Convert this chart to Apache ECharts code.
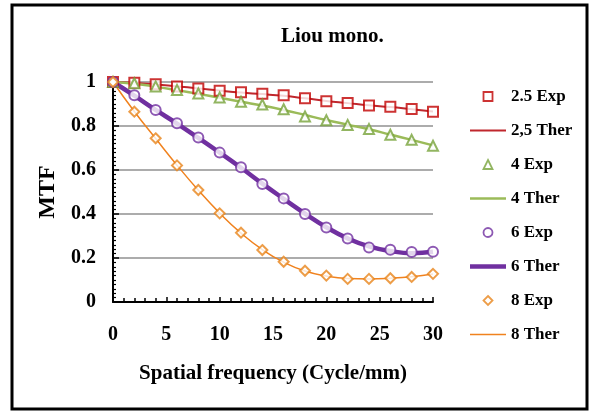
<!DOCTYPE html>
<html>
<head>
<meta charset="utf-8">
<script src="https://cdn.jsdelivr.net/npm/echarts@6/dist/echarts.min.js"></script>
<style>
html, body { margin: 0; padding: 0; background: #fff; }
#main { width: 590px; height: 412px; }
</style>
</head>
<body>
<div id="main"></div>
<script>
var freq = [0, 2, 4, 6, 8, 10, 12, 14, 16, 18, 20, 22, 24, 26, 28, 30];

// measured (Exp) and theoretical (Ther) MTF
var exp25  = [1.0, 0.997, 0.99, 0.98, 0.97, 0.96, 0.953, 0.947, 0.94, 0.926, 0.912, 0.905, 0.893, 0.888, 0.877, 0.865];
var ther25 = [1.0, 0.996, 0.989, 0.980, 0.971, 0.961, 0.952, 0.945, 0.937, 0.926, 0.914, 0.904, 0.894, 0.886, 0.876, 0.866];
var exp4   = [1.0, 0.994, 0.98, 0.964, 0.948, 0.93, 0.91, 0.898, 0.876, 0.843, 0.826, 0.805, 0.786, 0.76, 0.737, 0.71];
var ther4  = [1.0, 0.992, 0.979, 0.963, 0.946, 0.928, 0.910, 0.893, 0.873, 0.850, 0.827, 0.806, 0.785, 0.761, 0.737, 0.712];
var exp6   = [1.0, 0.94, 0.873, 0.812, 0.748, 0.679, 0.612, 0.536, 0.471, 0.40, 0.339, 0.289, 0.248, 0.237, 0.227, 0.228];
var ther6  = [1.0, 0.938, 0.873, 0.811, 0.746, 0.679, 0.610, 0.538, 0.469, 0.402, 0.340, 0.289, 0.253, 0.232, 0.222, 0.228];
var exp8   = [1.0, 0.865, 0.744, 0.621, 0.509, 0.403, 0.315, 0.236, 0.183, 0.142, 0.12, 0.105, 0.105, 0.108, 0.114, 0.128];
var ther8  = [1.0, 0.866, 0.743, 0.622, 0.508, 0.404, 0.313, 0.238, 0.181, 0.141, 0.118, 0.107, 0.105, 0.108, 0.115, 0.127];

var names = ['2.5 Exp', '2,5 Ther', '4 Exp', '4 Ther', '6 Exp', '6 Ther', '8 Exp', '8 Ther'];

function pairs(vals) {
    return freq.map(function (f, i) { return [f, vals[i]]; });
}

var font = 'Liberation Serif';
var cRed = '#c00000', cRedLine = '#c0272d';
var cGreen = '#77a33a', cGreenLine = '#9bbb59';
var cPurple = '#7030a0';
var cOrange = '#e8841a', cOrangeLine = '#f0821e';

function expSeries(name, vals, symbol, color) {
    return {
        name: name,
        type: 'scatter',
        data: pairs(vals),
        symbol: symbol,
        symbolSize: 10,
        z: 5,
        itemStyle: { color: color, borderColor: color, borderWidth: 2 }
    };
}

function therSeries(name, vals, color, width) {
    return {
        name: name,
        type: 'line',
        data: pairs(vals),
        smooth: true,
        symbol: 'none',
        z: 3,
        lineStyle: { color: color, width: width },
        itemStyle: { color: color }
    };
}

// legend icons: hollow markers for Exp, plain strokes for Ther
function expIcon(name, path, color) {
    return { name: name, icon: path, itemStyle: { color: '#fff', borderColor: color, borderWidth: 1.8 } };
}
function therIcon(name, h, color) {
    return { name: name, icon: 'path://M0,0H36V' + h + 'H0Z', itemStyle: { color: color, borderWidth: 0 } };
}

var myChart = echarts.init(document.getElementById('main'));
var option = {
    backgroundColor: '#fff',
    animation: false,
    textStyle: { fontFamily: font, color: '#000' },
    title: {
        text: 'Liou mono.',
        left: 281,
        top: 26,
        padding: 0,
        textStyle: { fontFamily: font, fontSize: 21, fontWeight: 'bold', color: '#000' }
    },
    grid: { left: 113, right: 157, top: 82, bottom: 110 },
    legend: {
        orient: 'vertical',
        left: 470,
        top: 88,
        padding: 0,
        itemWidth: 36,
        itemHeight: 9,
        itemGap: 17,
        symbolKeepAspect: true,
        data: [
            expIcon('2.5 Exp', 'path://M0,0H10V10H0Z', cRed),
            therIcon('2,5 Ther', 2, cRedLine),
            expIcon('4 Exp', 'path://M5,0L10,10H0Z', cGreen),
            therIcon('4 Ther', 2.5, cGreenLine),
            expIcon('6 Exp', 'path://M5,0A5,5,0,1,1,4.99,0Z', cPurple),
            therIcon('6 Ther', 4.5, cPurple),
            expIcon('8 Exp', 'path://M5,0L10,5L5,10L0,5Z', cOrange),
            therIcon('8 Ther', 1.6, cOrangeLine)
        ],
        textStyle: { fontFamily: font, fontSize: 17, fontWeight: 'bold', color: '#000' }
    },
    graphic: [{
        type: 'rect',
        shape: { x: 12, y: 5, width: 575, height: 404 },
        style: { fill: 'none', stroke: '#000', lineWidth: 3 },
        silent: true
    }],
    xAxis: {
        type: 'value',
        min: 0,
        max: 30,
        interval: 5,
        name: 'Spatial frequency (Cycle/mm)',
        nameLocation: 'middle',
        nameGap: 61,
        nameTextStyle: { fontFamily: font, fontSize: 21, fontWeight: 'bold', color: '#000' },
        axisLine: { lineStyle: { color: '#000', width: 2 } },
        axisTick: { inside: true, length: 5, lineStyle: { color: '#000', width: 1.5 } },
        minorTick: { show: true, splitNumber: 5, length: 4, lineStyle: { color: '#000', width: 1.5 } },
        axisLabel: { margin: 23, fontFamily: font, fontSize: 20, fontWeight: 'bold', color: '#000' },
        splitLine: { show: false }
    },
    yAxis: {
        type: 'value',
        min: 0,
        max: 1,
        interval: 0.2,
        name: 'MTF',
        nameLocation: 'middle',
        nameGap: 53,
        nameRotate: 90,
        nameTextStyle: { fontFamily: font, fontSize: 24, fontWeight: 'bold', color: '#000' },
        axisLine: { show: true, lineStyle: { color: '#000', width: 2 } },
        axisTick: { show: true, inside: true, length: 6, lineStyle: { color: '#000', width: 1.5 } },
        minorTick: { show: true, splitNumber: 10, length: 3, lineStyle: { color: '#000', width: 1.2 } },
        axisLabel: { margin: 17, fontFamily: font, fontSize: 20, fontWeight: 'bold', color: '#000',
            formatter: function (v) { return String(Math.round(v * 10) / 10); } },
        splitLine: { show: true, lineStyle: { color: '#909090', width: 1.5 } }
    },
    series: [
        therSeries('2,5 Ther', ther25, cRedLine, 2),
        therSeries('4 Ther', ther4, cGreenLine, 2.5),
        therSeries('6 Ther', ther6, cPurple, 4.5),
        therSeries('8 Ther', ther8, cOrangeLine, 1.5),
        expSeries('2.5 Exp', exp25, 'emptyRect', cRed),
        expSeries('4 Exp', exp4, 'emptyTriangle', cGreen),
        expSeries('6 Exp', exp6, 'emptyCircle', cPurple),
        expSeries('8 Exp', exp8, 'emptyDiamond', cOrange)
    ]
};

myChart.setOption(option);
</script>
</body>
</html>
